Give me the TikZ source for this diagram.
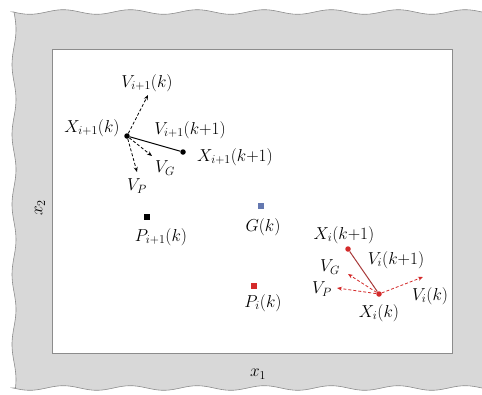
\documentclass[tikz,border=0pt]{standalone}
\usetikzlibrary{arrows.meta}
\definecolor{pred}{HTML}{D42A2A}
\definecolor{plink}{HTML}{A83A3A}
\definecolor{pblue}{HTML}{6478B0}
\definecolor{frame}{HTML}{D8D8D8}
\definecolor{frameline}{HTML}{8C8C8C}
\tikzset{
  dotnode/.style={circle, fill, inner sep=0pt, minimum size=5.5pt},
  sqnode/.style={rectangle, fill, inner sep=0pt, minimum size=6.5pt},
  lbl/.style={font=\fontsize{18}{21}\selectfont, inner sep=0pt},
  varrow/.style={dash pattern=on 3pt off 2pt, line width=0.8pt, -{Stealth[length=5pt,width=4pt]}},
  stepline/.style={line width=1pt}
}
\begin{document}
\begin{tikzpicture}[x=1pt,y=-1pt]
\useasboundingbox (0,0) rectangle (482,394);
% wavy grey frame
\fill[frame, draw=frameline, line width=0.6pt]
  plot[domain=13:490, samples=120, smooth] (\x, {12 + 2.3*sin((\x-13)/67*360)})
  -- (490,390)
  -- plot[domain=490:13, samples=120, smooth] (\x, {388 + 2.3*sin((\x-13)/67*360)})
  -- plot[domain=388:12, samples=100, smooth] ({14 + 2*sin((\x-12)/70*360)}, \x)
  -- cycle;
% white field
\fill[white, draw=frameline, line width=0.6pt] (52,49) rectangle (452,353);

\node[lbl] (x1) at (258,374) {$x_1$};
\node[lbl, rotate=90] (x2) at (40,208) {$x_2$};

% particle i+1
\node[dotnode] (A) at (127,136) {};
\node[dotnode] (B) at (183,152) {};
\coordinate (Avk) at (148,95);
\coordinate (Avg) at (152,156);
\coordinate (Avp) at (137,172);
\draw[stepline] (A) -- (B);
\draw[varrow] (A) -- (Avk);
\draw[varrow] (A) -- (Avg);
\draw[varrow] (A) -- (Avp);
\node[lbl] (lA) at (92,128) {$X_{i+1}(k)$};
\node[lbl] (lAvk) at (147,83) {$V_{i+1}(k)$};
\node[lbl] (lAB) at (190,130) {$V_{i+1}(k{+}1)$};
\node[lbl] (lB) at (235,157) {$X_{i+1}(k{+}1)$};
\node[lbl] (lAvg) at (165,168) {$V_G$};
\node[lbl] (lAvp) at (137,186) {$V_P$};

% best positions
\node[sqnode, black] (Pi1) at (147,217) {};
\node[lbl] (lPi1) at (161,237) {$P_{i+1}(k)$};
\node[sqnode, pblue, minimum size=6pt] (G) at (261,206) {};
\node[lbl] (lG) at (263,227) {$G(k)$};
\node[sqnode, pred] (Pi) at (254,286) {};
\node[lbl] (lPi) at (263,303) {$P_i(k)$};

% particle i
\node[dotnode, pred] (C) at (379,294) {};
\node[dotnode, pred] (D) at (348,249) {};
\coordinate (Cvg) at (348,274);
\coordinate (Cvp) at (337,288);
\coordinate (Cvk) at (423,277);
\draw[stepline, plink] (C) -- (D);
\draw[varrow, pred] (C) -- (Cvg);
\draw[varrow, pred] (C) -- (Cvp);
\draw[varrow, pred] (C) -- (Cvk);
\node[lbl] (lD) at (344,235) {$X_i(k{+}1)$};
\node[lbl] (lCD) at (396,260) {$V_i(k{+}1)$};
\node[lbl] (lCvg) at (330,267) {$V_G$};
\node[lbl] (lCvp) at (322,289) {$V_P$};
\node[lbl] (lC) at (379,313) {$X_i(k)$};
\node[lbl] (lCvk) at (430,296) {$V_i(k)$};
\end{tikzpicture}
\end{document}
